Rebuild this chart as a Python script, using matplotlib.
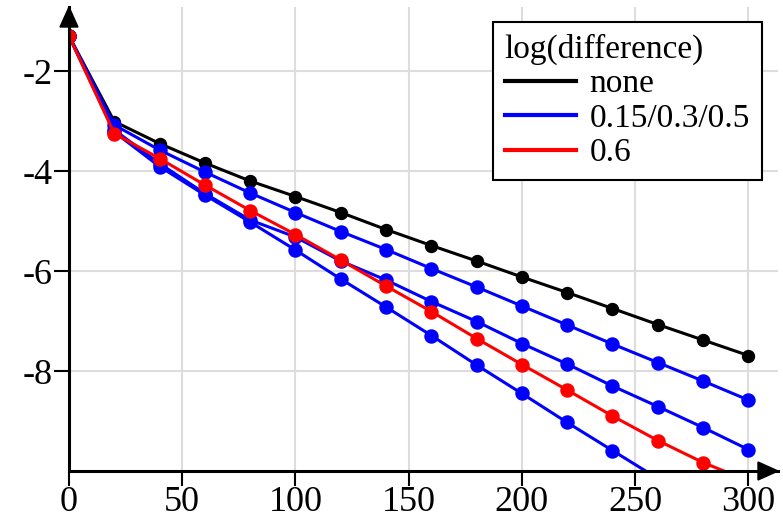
import matplotlib
matplotlib.use('Agg')
import matplotlib.pyplot as plt
from matplotlib.lines import Line2D
from matplotlib.patches import Polygon

plt.rcParams['font.family'] = ['Liberation Serif', 'DejaVu Serif']
plt.rcParams['axes.unicode_minus'] = False

# data
steps = [0, 20, 40, 60, 80, 100, 120, 140, 160, 180, 200, 220, 240, 260, 280, 300]
diff_none = [-1.3, -3.01, -3.45, -3.84, -4.2, -4.51, -4.83, -5.17, -5.49, -5.80, -6.12, -6.43, -6.75, -7.07, -7.38, -7.69]
diff_015 = [-1.3, -3.08, -3.58, -4.02, -4.44, -4.83, -5.21, -5.57, -5.95, -6.32, -6.70, -7.08, -7.46, -7.83, -8.20, -8.58]
diff_03 = [-1.3, -3.18, -3.85, -4.45, -4.98, -5.32, -5.80, -6.18, -6.61, -7.01, -7.45, -7.86, -8.30, -8.71, -9.13, -9.57]
diff_05 = [-1.3, -3.22, -3.91, -4.48, -5.02, -5.58, -6.16, -6.72, -7.29, -7.88, -8.45, -9.03, -9.59, -10.15, -10.7, -11.25]
diff_06 = [-1.3, -3.25, -3.75, -4.28, -4.79, -5.27, -5.78, -6.30, -6.81, -7.35, -7.87, -8.38, -8.90, -9.39, -9.83, -10.2]

x_ticks = [0, 50, 100, 150, 200, 250, 300]
y_ticks = [-2, -4, -6, -8]
legend_title = 'log(difference)'
legend_labels = ['none', '0.15/0.3/0.5', '0.6']

W, H = 783, 523
fig = plt.figure(figsize=(W / 100, H / 100), dpi=100)
ax = fig.add_axes([69 / W, 52 / H, 709 / W, 464 / H])

lw = 2.2
ax.plot(steps, diff_none, color='black', lw=lw, marker='o', ms=8.6, zorder=3)
for ys in [diff_015, diff_03, diff_05]:
    ax.plot(steps, ys, color='#0000ff', lw=lw, marker='o', ms=9.4, zorder=4)
ax.plot(steps, diff_06, color='#ff0000', lw=lw, marker='o', ms=9.4, zorder=5)

ax.set_xlim(0, 313.1)
ax.set_ylim(-10, -0.72)
ax.set_xticks(x_ticks)
ax.set_yticks(y_ticks)
ax.set_xticklabels([str(t) for t in x_ticks])
ax.set_yticklabels([str(t) for t in y_ticks])
ax.tick_params(labelsize=26, length=10.5, width=1.5, direction='out')
ax.tick_params(axis='x', pad=0)
ax.tick_params(axis='y', pad=1.5)

ax.grid(True, color='#dddddd', lw=1.5)
ax.set_axisbelow(True)
for s in ['top', 'right']:
    ax.spines[s].set_visible(False)
for s in ['left', 'bottom']:
    ax.spines[s].set_linewidth(2.2)
    ax.spines[s].set_zorder(6)


# arrow heads at the ends of the axes (pixel positions, top-left origin)
def tri(pts):
    return Polygon([(px / W, 1 - py / H) for px, py in pts], closed=True,
                   transform=fig.transFigure, color='black', zorder=10)


fig.patches.append(tri([(60, 27), (78, 27), (69, 7)]))
fig.patches.append(tri([(758, 462), (758, 480), (778, 471)]))

handles = [Line2D([], [], color='black', lw=3),
           Line2D([], [], color='#0000ff', lw=3),
           Line2D([], [], color='#ff0000', lw=3)]
leg = ax.legend(handles, legend_labels, title=legend_title, loc='upper left',
                bbox_to_anchor=(493 / W, 1 - 22 / H), bbox_transform=fig.transFigure,
                borderaxespad=0, fontsize=24, title_fontsize=24, alignment='left',
                frameon=True, fancybox=False, framealpha=1, edgecolor='black',
                handlelength=2.15, handletextpad=0.4, labelspacing=0.12,
                borderpad=0.35)
leg.get_frame().set_linewidth(1.5)
leg.set_zorder(20)

fig.savefig('out.png', dpi=100)
